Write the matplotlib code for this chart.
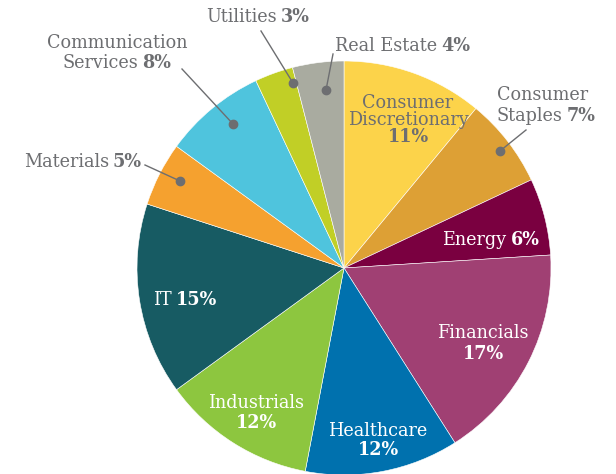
import matplotlib
matplotlib.use("Agg")
import matplotlib.pyplot as plt

sectors = ["Consumer Discretionary", "Consumer Staples", "Energy", "Financials",
           "Healthcare", "Industrials", "IT", "Materials",
           "Communication Services", "Utilities", "Real Estate"]
weights = [11, 7, 6, 17, 12, 12, 15, 5, 8, 3, 4]
colors = ["#fcd34a", "#dda035", "#7a0040", "#a04073", "#0071ae", "#8dc63f",
          "#175b63", "#f5a12f", "#4fc4dd", "#c1cf26", "#a9aba0"]

GRAY = "#6d6e71"
FONT = "DejaVu Serif"
FS = 12.7

fig = plt.figure(figsize=(6.16, 4.74), dpi=100)

# pie axes (y up)
pax = fig.add_axes([0, 0, 1, 1])
pax.pie(weights, colors=colors, startangle=90, counterclock=False,
        center=(344, 474 - 268), radius=207, frame=True,
        wedgeprops=dict(edgecolor="white", linewidth=0.4))
pax.set_xlim(0, 616)
pax.set_ylim(0, 474)
pax.set_aspect("auto")
pax.axis("off")

# overlay axes in pixel coords (y down) for labels and leaders
ax = fig.add_axes([0, 0, 1, 1])
ax.set_xlim(0, 616)
ax.set_ylim(474, 0)
ax.axis("off")
ax.patch.set_alpha(0)

renderer = fig.canvas.get_renderer()


def line_runs(x, y, parts, color, ha="center"):
    """draw one line of (text, weight) runs; x anchored per ha, y is the center"""
    objs, widths = [], []
    for txt, w in parts:
        t = ax.text(0, y, txt, fontsize=FS, family=FONT, weight=w, color=color,
                    ha="left", va="center")
        objs.append(t)
        widths.append(t.get_window_extent(renderer).width)
    gap = 4
    total = sum(widths) + gap * (len(parts) - 1)
    x0 = {"left": x, "center": x - total / 2, "right": x - total}[ha]
    for t, w in zip(objs, widths):
        t.set_x(x0)
        x0 += w + gap


def label(i, x, y0, dy=19, wrap=False, pct_own=False, color=GRAY, ha="center"):
    name_lines = sectors[i].split(" ") if wrap else [sectors[i]]
    pct = f"{weights[i]}%"
    rows = [[(n, "normal")] for n in name_lines]
    if pct_own:
        rows.append([(pct, "bold")])
    else:
        rows[-1].append((pct, "bold"))
    for k, parts in enumerate(rows):
        line_runs(x, y0 + k * dy, parts, color, ha)


def leader(p0, p1):
    ax.plot([p0[0], p1[0]], [p0[1], p1[1]], color=GRAY, lw=1.0)
    ax.plot(*p1, "o", color=GRAY, ms=6)


# inside labels
label(0, 408, 103, dy=17, wrap=True, pct_own=True)
label(2, 491, 240, color="white")
label(3, 483, 333, dy=21, pct_own=True, color="white")
label(4, 378, 431, dy=19, pct_own=True, color="white")
label(5, 256, 403, dy=20, pct_own=True, color="white")
label(6, 185, 300, color="white")

# outside labels with leaders
label(1, 497, 95, dy=21, wrap=True, ha="left")
leader((526, 130), (500, 151))
label(7, 142, 162, ha="right")
leader((145, 165), (180, 181))
label(8, 117, 43, dy=20, wrap=True)
leader((182, 69), (233, 124))
label(9, 258, 17)
leader((261, 31), (293, 83))
label(10, 335, 46, ha="left")
leader((333, 54), (326, 90))

fig.savefig("out.png", dpi=100)
